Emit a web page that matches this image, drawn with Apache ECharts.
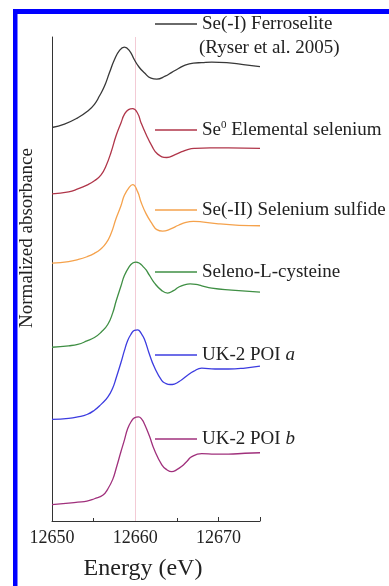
<!DOCTYPE html>
<html>
<head>
<meta charset="utf-8">
<script src="https://cdn.jsdelivr.net/npm/echarts@6/dist/echarts.min.js"></script>
<style>
  html, body { margin: 0; padding: 0; background: #fff; }
  #chart { width: 389px; height: 586px; }
</style>
</head>
<body>
<div id="chart"></div>
<script>
// energy (eV) / normalized absorbance, stacked with offsets as in the figure
var ferroselite = [
  [12650, 8.13], [12651.5, 8.20], [12653.1, 8.33], [12654.3, 8.47], [12655.1, 8.61],
  [12655.7, 8.78], [12656.3, 8.98], [12656.9, 9.26], [12657.5, 9.53], [12658.1, 9.72],
  [12658.7, 9.79], [12659.3, 9.72], [12659.9, 9.53], [12660.5, 9.37], [12661.1, 9.26],
  [12661.9, 9.15], [12662.6, 9.13], [12663.6, 9.19], [12664.4, 9.27], [12665.2, 9.35],
  [12666, 9.42], [12667, 9.46], [12668, 9.47], [12669.2, 9.48], [12671, 9.47],
  [12673, 9.43], [12675, 9.39]
];
var elementalSe = [
  [12650, 6.76], [12652, 6.80], [12653.1, 6.86], [12654.2, 6.94], [12655.1, 7.03],
  [12655.9, 7.15], [12656.5, 7.34], [12657.1, 7.62], [12657.7, 7.96], [12658.3, 8.23],
  [12658.7, 8.40], [12659.2, 8.50], [12659.7, 8.52], [12660.3, 8.42], [12660.7, 8.23],
  [12661.3, 7.99], [12662.0, 7.75], [12662.7, 7.58], [12663.8, 7.51], [12664.8, 7.57],
  [12665.6, 7.63], [12666.4, 7.68], [12667.2, 7.70], [12669, 7.71], [12671.2, 7.71],
  [12675, 7.70]
];
var seSulfide = [
  [12650, 5.33], [12652, 5.36], [12653.1, 5.40], [12654.2, 5.46], [12655.1, 5.53],
  [12655.8, 5.61], [12656.5, 5.74], [12657.1, 5.94], [12657.7, 6.25], [12658.3, 6.52],
  [12658.7, 6.73], [12659.3, 6.90], [12659.7, 6.95], [12660.3, 6.80], [12660.7, 6.59],
  [12661.3, 6.35], [12662.0, 6.15], [12662.6, 6.02], [12663.3, 5.99], [12664.2, 6.03],
  [12665.2, 6.11], [12666.1, 6.17], [12667, 6.19], [12668, 6.18], [12670, 6.14],
  [12672.5, 6.11], [12675, 6.10]
];
var selenocysteine = [
  [12650, 3.59], [12652, 3.62], [12653.1, 3.65], [12654.2, 3.72], [12655.1, 3.79],
  [12655.9, 3.90], [12656.7, 4.06], [12657.3, 4.30], [12657.7, 4.54], [12658.3, 4.86],
  [12658.7, 5.07], [12659.3, 5.26], [12659.7, 5.33], [12660.1, 5.35], [12661.1, 5.23],
  [12661.7, 5.08], [12662.3, 4.92], [12663.2, 4.76], [12663.9, 4.71], [12664.6, 4.76],
  [12665.2, 4.83], [12665.9, 4.88], [12666.6, 4.90], [12667.3, 4.89], [12668, 4.86],
  [12669.2, 4.81], [12671.6, 4.77], [12675, 4.73]
];
var poiA = [
  [12650, 2.10], [12652, 2.12], [12653.1, 2.15], [12654.2, 2.20], [12655.1, 2.29],
  [12655.9, 2.41], [12656.7, 2.56], [12657.3, 2.75], [12657.7, 2.95], [12658.3, 3.28],
  [12658.7, 3.52], [12659.1, 3.73], [12659.5, 3.86], [12659.9, 3.94], [12660.3, 3.95],
  [12660.7, 3.88], [12661.1, 3.76], [12661.7, 3.45], [12662.3, 3.18], [12663.2, 2.90],
  [12663.7, 2.84], [12664.2, 2.82], [12664.7, 2.83], [12665.6, 2.92], [12666.3, 3.01],
  [12667.0, 3.09], [12668.0, 3.16], [12669.6, 3.14], [12671.2, 3.14], [12673.2, 3.16],
  [12675, 3.20]
];
var poiB = [
  [12650, 0.34], [12652, 0.37], [12653.1, 0.39], [12654.2, 0.41], [12655.1, 0.46],
  [12656.1, 0.53], [12656.7, 0.66], [12657.3, 0.86], [12657.7, 1.08], [12658.3, 1.44],
  [12658.7, 1.67], [12659.1, 1.91], [12659.5, 2.05], [12659.9, 2.13], [12660.4, 2.15],
  [12660.8, 2.10], [12661.1, 2.01], [12661.7, 1.76], [12662.3, 1.47], [12663.2, 1.16],
  [12663.8, 1.06], [12664.4, 1.02], [12665, 1.06], [12665.6, 1.13], [12666.2, 1.23],
  [12666.8, 1.33], [12668.0, 1.39], [12669.6, 1.38], [12671.2, 1.38], [12673.2, 1.40],
  [12675, 1.41]
];

var names = ['Se(-I) Ferroselite', 'Se0 Elemental selenium', 'Se(-II) Selenium sulfide',
             'Seleno-L-cysteine', 'UK-2 POI a', 'UK-2 POI b'];
var labels = ['Se(-I) Ferroselite', '{n|Se}{s|0}{n| Elemental selenium}', 'Se(-II) Selenium sulfide',
              'Seleno-L-cysteine', '{n|UK-2 POI }{i|a}', '{n|UK-2 POI }{i|b}'];
var colors = ['#383838', '#b0364a', '#f5a24c', '#3f8f44', '#3c3ce0', '#a0307c'];
var allData = [ferroselite, elementalSe, seSulfide, selenocysteine, poiA, poiB];
var legendY = [24, 130, 210, 272, 355, 439];
var xTicks = [12650, 12660, 12670];

var FONT = 'Liberation Serif';

var chart = echarts.init(document.getElementById('chart'));

var series = [];
var legends = [];
for (var i = 0; i < names.length; i++) {
  series.push({
    name: names[i],
    type: 'line',
    data: allData[i],
    smooth: 0.5,
    symbol: 'none',
    showSymbol: false,
    lineStyle: { color: colors[i], width: 1.3 },
    itemStyle: { color: colors[i] },
    z: 3
  });
  legends.push({
    data: [names[i]],
    left: 155,
    top: legendY[i] - 10,
    padding: 0,
    icon: 'rect',
    itemWidth: 42,
    itemHeight: 1.3,
    selectedMode: false,
    formatter: (function (lab) { return function () { return lab; }; })(labels[i]),
    textStyle: {
      fontFamily: FONT, fontSize: 19, color: '#222', lineHeight: 20,
      rich: {
        n: { fontFamily: FONT, fontSize: 19, color: '#222', lineHeight: 20 },
        s: { fontFamily: FONT, fontSize: 11, color: '#222', verticalAlign: 'top' },
        i: { fontFamily: FONT, fontSize: 19, color: '#222', fontStyle: 'italic', lineHeight: 20 }
      }
    }
  });
}

// faint reference line at the white line position
series[0].markLine = {
  silent: true,
  symbol: 'none',
  label: { show: false },
  lineStyle: { color: '#f3cbd5', type: 'solid', width: 1 },
  z: 1,
  data: [{ xAxis: 12660 }]
};

var option = {
  animation: false,
  backgroundColor: '#fff',
  grid: { left: 52, right: 129, top: 37, bottom: 61 },
  legend: legends,
  xAxis: {
    type: 'value',
    min: 12650,
    max: 12675,
    interval: 10,
    name: 'Energy (eV)',
    nameLocation: 'middle',
    nameGap: 36,
    nameTextStyle: { fontFamily: FONT, fontSize: 24, color: '#222', padding: [0, 26, 0, 0] },
    axisLine: { show: true, lineStyle: { color: '#333', width: 1 } },
    axisTick: { show: true, inside: true, length: 4, lineStyle: { color: '#333' } },
    minorTick: { show: true, splitNumber: 2, length: 3, lineStyle: { color: '#333' } },
    axisLabel: {
      fontFamily: FONT, fontSize: 18, color: '#222', margin: 8,
      showMaxLabel: false,
      formatter: function (v) { return xTicks.indexOf(v) >= 0 ? String(v) : ''; }
    },
    splitLine: { show: false }
  },
  yAxis: {
    type: 'value',
    min: 0,
    max: 10,
    name: 'Normalized absorbance',
    nameLocation: 'middle',
    nameRotate: 90,
    nameGap: 15,
    nameTextStyle: { fontFamily: FONT, fontSize: 19, color: '#222', padding: [0, 0, 0, 82] },
    axisLine: { show: true, lineStyle: { color: '#333', width: 1 } },
    axisTick: { show: false },
    axisLabel: { show: false },
    splitLine: { show: false }
  },
  graphic: [
    { type: 'rect', shape: { x: 13, y: 9, width: 376, height: 5 }, style: { fill: '#0000ff' }, silent: true },
    { type: 'rect', shape: { x: 13, y: 9, width: 4.5, height: 577 }, style: { fill: '#0000ff' }, silent: true },
    {
      type: 'text', x: 199, y: 48, silent: true,
      style: { text: '(Ryser et al. 2005)', fontFamily: FONT, fontSize: 19, fill: '#222', align: 'left', verticalAlign: 'middle' }
    }
  ],
  series: series
};

chart.setOption(option);
</script>
</body>
</html>
